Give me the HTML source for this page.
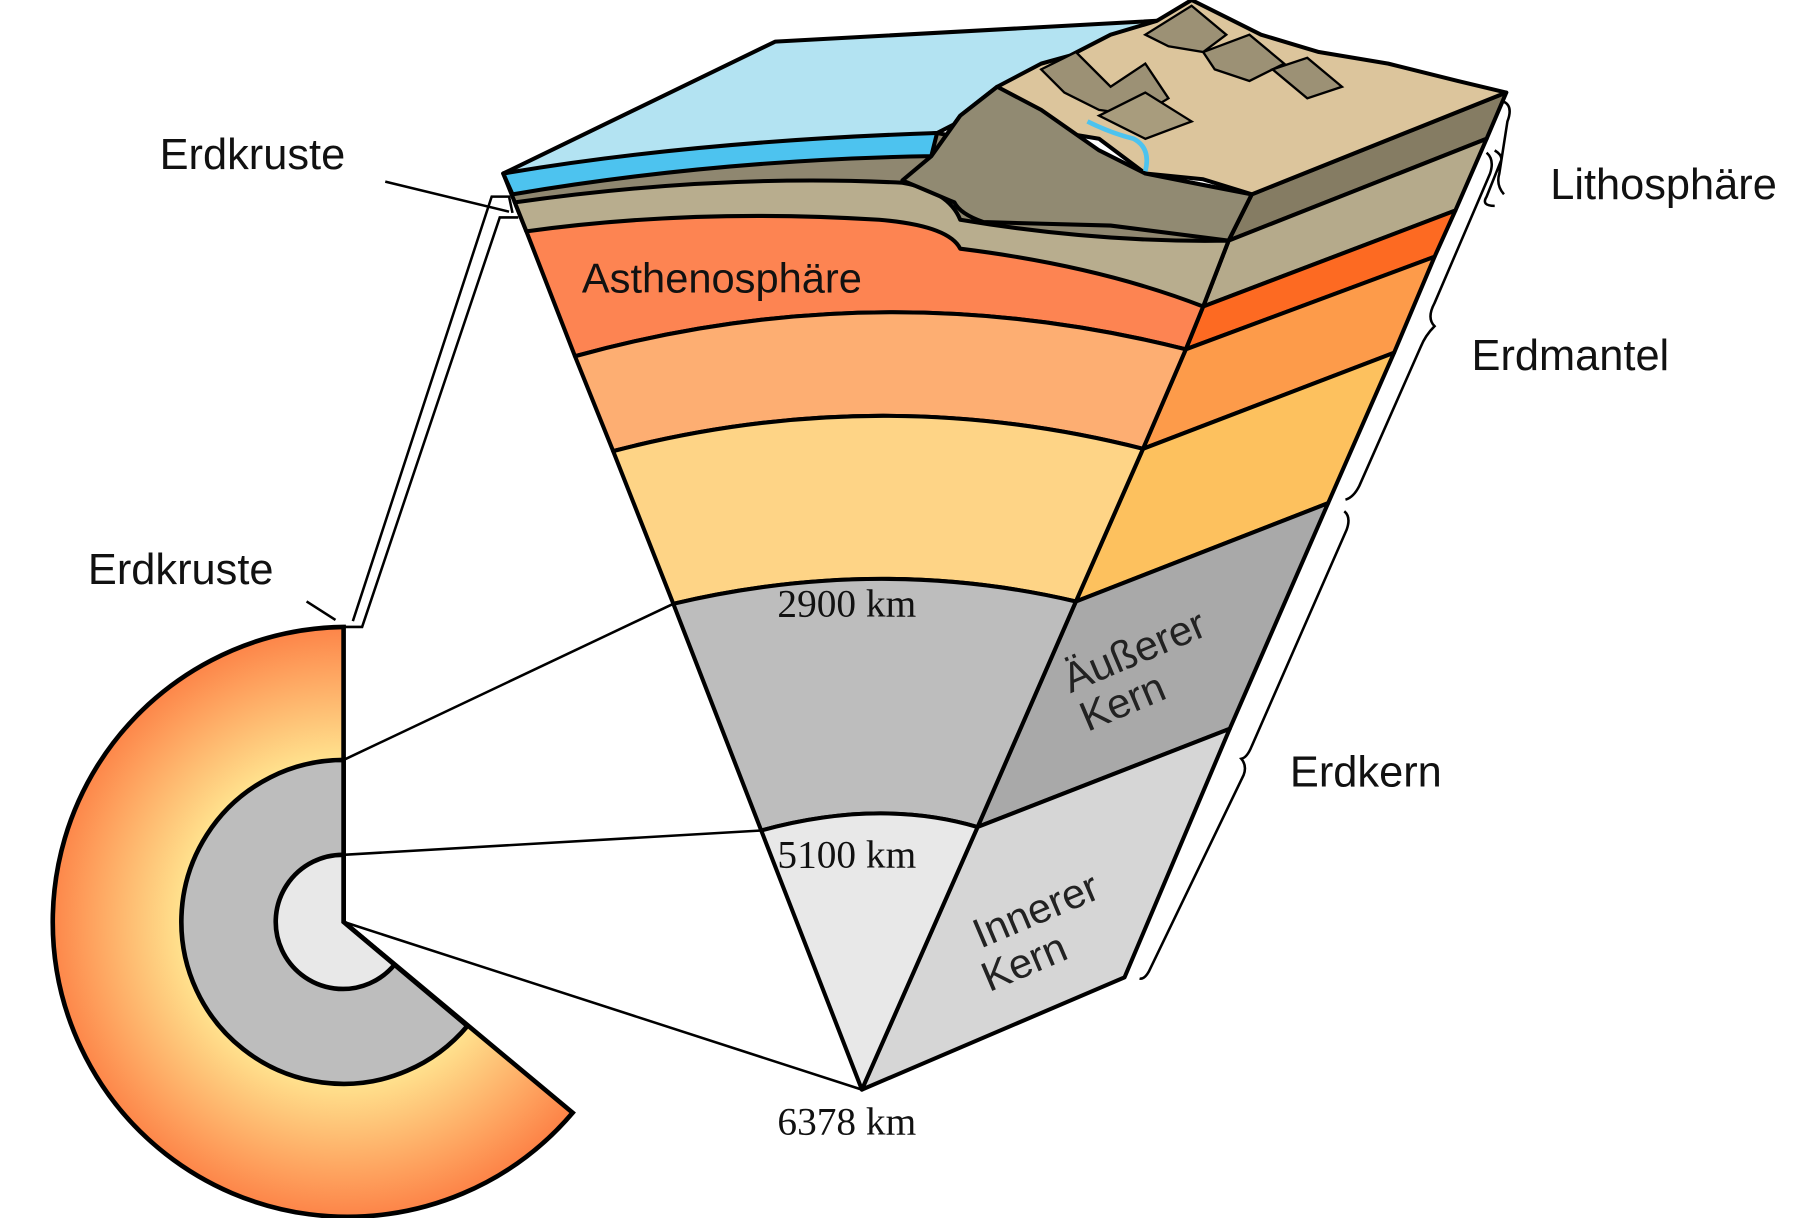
<!DOCTYPE html>
<html><head><meta charset="utf-8"><style>html,body{margin:0;padding:0;background:#fff}svg{display:block}</style></head>
<body>
<svg width="1814" height="1218" viewBox="0 0 1568 1053" preserveAspectRatio="none" xmlns="http://www.w3.org/2000/svg" font-family="Liberation Sans, sans-serif">
<defs>
<radialGradient id="rg" cx="297" cy="797" r="255" gradientUnits="userSpaceOnUse">
<stop offset="0.55" stop-color="#ffe28e"/><stop offset="1" stop-color="#fd8448"/>
</radialGradient>
</defs>
<g stroke="#000" stroke-width="3.5" stroke-linejoin="round">
<polygon points="1082,168 1302,80 1285,120 1062,208" fill="#857c63"/>
<polygon points="1062,208 1285,120 1258,182 1040,265" fill="#b5aa8b"/>
<polygon points="1040,265 1258,182 1240,222 1025,302" fill="#fd6a22"/>
<polygon points="1025,302 1240,222 1205,305 988,388" fill="#fd9b4a"/>
<polygon points="988,388 1205,305 1148,435 930,520" fill="#fdc15e"/>
<polygon points="930,520 1148,435 1063,630 845,715" fill="#a9a9a9"/>
<polygon points="845,715 1063,630 972,845 745,942" fill="#d6d6d6"/>
<path d="M435,150 L455,200 Q760,180 1040,265 L1062,208 L1082,168 L810,115 Q600,120 435,150Z" fill="#8f8770"/>
<path d="M445,175 Q620,150 780,158 Q820,165 830,190 Q950,210 1062,208 L1040,265 Q760,180 455,200Z" fill="#b8ad8e"/>
<path d="M455,200 Q600,180 760,190 Q820,195 830,215 Q950,230 1040,265 L1025,302 Q760,235 497,308Z" fill="#fd8452"/>
<path d="M497,308 Q760,235 1025,302 L988,388 Q760,330 530,390Z" fill="#fdae72"/>
<path d="M530,390 Q760,330 988,388 L930,520 Q760,480 582,522Z" fill="#fed486"/>
<path d="M582,522 Q760,480 930,520 L845,715 Q760,690 658,718Z" fill="#bdbdbd"/>
<path d="M658,718 Q760,690 845,715 L745,942Z" fill="#e8e8e8"/>
<polygon points="435,150 670,36 1000,18 810,115" fill="#b3e3f2"/>
<path d="M435,150 Q600,122 810,115 L805,135 Q620,138 443,168Z" fill="#4dc3ef"/>
<path d="M805,135 L830,100 L862,75 L900,55 L925,48 L960,30 L1000,18 L1030,0 L1060,15 L1090,30 L1140,45 L1200,55 L1260,70 L1302,80 L1082,168 L1040,155 L990,150 L950,120 L920,115 L880,85 L860,80 L840,110Z" fill="#dcc59c"/>
<path d="M805,135 L830,100 L862,75 L900,95 L950,130 L990,150 L1040,160 L1082,168 L1062,208 L960,195 L850,192 Q830,185 825,175 Q790,160 780,156 Z" fill="#918a72"/>
</g>
<g stroke="#000" stroke-width="2" fill="#9c9175">
<path d="M900,60 L930,45 L960,75 L990,55 L1010,85 L985,100 L950,95 L920,80Z"/>
<path d="M990,30 L1030,5 L1060,30 L1040,45 L1010,40Z"/>
<path d="M1040,45 L1080,30 L1110,55 L1080,70 L1050,60Z"/>
<path d="M1100,60 L1130,50 L1160,75 L1130,85Z"/>
<path d="M950,100 L990,80 L1030,105 L990,120Z" fill="#a89c7d"/>
</g>
<path d="M940,105 Q960,115 980,120 Q995,128 990,148" stroke="#4dc3ef" stroke-width="4" fill="none"/>
<g stroke="#000" stroke-width="4">
<path d="M297,797 L297,542 A255,255 0 1 0 495,962 Z" fill="url(#rg)"/>
<path d="M297,797 L297,657 A140,140 0 1 0 404,887 Z" fill="#bdbdbd"/>
<path d="M297,797 L297,739 A58,58 0 1 0 341,834 Z" fill="#e8e8e8"/>
</g>
<g stroke="#000" stroke-width="2.2" fill="none">
<line x1="297" y1="657" x2="582" y2="522"/>
<line x1="297" y1="739" x2="658" y2="718"/>
<line x1="297" y1="797" x2="745" y2="942"/>
<polyline points="297,542 313,542 432,188 448,188"/>
<polyline points="305,537 425,170 440,170 443,184"/>
<line x1="333" y1="157" x2="440" y2="183"/>
<line x1="265" y1="520" x2="290" y2="536"/>
<path d="M1300,88 Q1308,92 1303,105 L1296,150 Q1293,160 1300,168 M1292,130 Q1300,135 1297,140 L1285,170 Q1280,178 1292,178"/>
<path d="M1285,132 Q1292,138 1288,150 L1240,262 Q1233,275 1240,282 Q1232,290 1228,300 L1175,420 Q1170,430 1163,432"/>
<path d="M1162,442 Q1168,447 1164,458 L1082,645 Q1078,655 1073,656 Q1078,662 1075,670 L993,840 Q989,847 985,846"/>
</g>
<g font-size="37.5" fill="#111">
<text x="138" y="146">Erdkruste</text>
<text x="1340" y="172">Lithosphäre</text>
<text x="1272" y="320">Erdmantel</text>
<text x="1115" y="680">Erdkern</text>
<text x="76" y="505">Erdkruste</text>
<text x="503" y="253" font-size="36">Asthenosphäre</text>
</g>
<g font-family="Liberation Serif, serif" font-size="34" fill="#111">
<text x="672" y="533">2900 km</text>
<text x="672" y="750">5100 km</text>
<text x="672" y="981">6378 km</text>
</g>
<g font-size="36" fill="#222" text-anchor="middle">
<text transform="translate(985,574) rotate(-23)">Äußerer</text>
<text transform="translate(975,618) rotate(-23)">Kern</text>
<text transform="translate(900,798) rotate(-23)">Innerer</text>
<text transform="translate(890,843) rotate(-23)">Kern</text>
</g>
</svg>
</body></html>
